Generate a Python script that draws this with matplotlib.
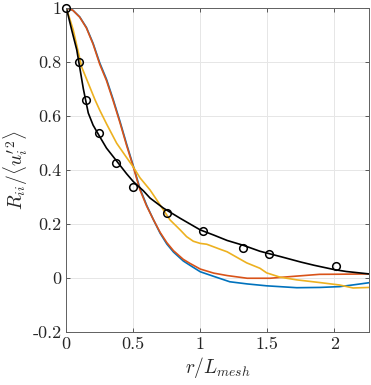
import matplotlib
matplotlib.use("Agg")
import matplotlib.pyplot as plt

plt.rcParams["mathtext.fontset"] = "cm"
plt.rcParams["font.family"] = "serif"
plt.rcParams["font.serif"] = ["cmr10", "DejaVu Serif"]
plt.rcParams["axes.unicode_minus"] = False

# measured points (circles)
meas_r = [0, 0.095, 0.147, 0.246, 0.371, 0.5, 0.749, 1.018, 1.321, 1.515, 2.013]
meas_R = [1.0, 0.80, 0.658, 0.537, 0.424, 0.335, 0.2385, 0.172, 0.110, 0.0866, 0.043]

# fit (black)
fit_r = [0, 0.039, 0.078, 0.127, 0.164, 0.2, 0.25, 0.3, 0.376, 0.45, 0.5, 0.575, 0.625,
         0.724, 0.85, 1.0, 1.1, 1.2, 1.321, 1.445, 1.6, 1.75, 1.85, 2.0, 2.09, 2.26]
fit_R = [1.0, 0.92, 0.844, 0.70, 0.61, 0.565, 0.522, 0.48, 0.432, 0.385, 0.356, 0.322, 0.295,
         0.258, 0.22, 0.177, 0.158, 0.138, 0.12, 0.098, 0.078, 0.058, 0.046, 0.03, 0.023, 0.014]

# blue
blue_r = [0, 0.05, 0.1, 0.15, 0.2, 0.25, 0.3, 0.35, 0.4, 0.45, 0.5, 0.55, 0.6, 0.65, 0.7,
          0.75, 0.8, 0.873, 0.923, 1.0, 1.1, 1.22, 1.35, 1.495, 1.72, 1.893, 2.04, 2.15, 2.26]
blue_R = [1.0, 0.99, 0.966, 0.927, 0.868, 0.795, 0.735, 0.66, 0.58, 0.495, 0.414, 0.33, 0.268,
          0.215, 0.165, 0.125, 0.095, 0.062, 0.046, 0.022, 0.005, -0.015, -0.023, -0.03,
          -0.037, -0.036, -0.033, -0.026, -0.0185]

# orange
orange_r = [0, 0.05, 0.1, 0.15, 0.2, 0.25, 0.3, 0.35, 0.4, 0.45, 0.5, 0.55, 0.6, 0.65, 0.7,
            0.75, 0.8, 0.873, 0.923, 1.0, 1.1, 1.2, 1.35, 1.52, 1.72, 1.89, 2.05, 2.26]
orange_R = [1.0, 0.99, 0.965, 0.925, 0.865, 0.79, 0.73, 0.655, 0.575, 0.49, 0.41, 0.325, 0.265,
            0.215, 0.168, 0.13, 0.1, 0.068, 0.053, 0.032, 0.017, 0.008, -0.002, -0.002,
            0.006, 0.0125, 0.013, 0.014]

# yellow
yellow_r = [0, 0.052, 0.115, 0.215, 0.25, 0.3, 0.376, 0.45, 0.5, 0.55, 0.625, 0.675, 0.774,
            0.85, 0.898, 0.948, 1.0, 1.048, 1.15, 1.2, 1.346, 1.445, 1.495, 1.595, 1.72,
            1.893, 2.04, 2.14, 2.26]
yellow_R = [1.0, 0.917, 0.78, 0.658, 0.62, 0.57, 0.498, 0.445, 0.41, 0.37, 0.325, 0.288, 0.214,
            0.177, 0.152, 0.135, 0.127, 0.124, 0.105, 0.096, 0.055, 0.035, 0.018, 0.002,
            -0.008, -0.018, -0.027, -0.038, -0.036]

xticks = [0, 0.5, 1, 1.5, 2]
xtick_labels = ["0", "0.5", "1", "1.5", "2"]
yticks = [-0.2, 0, 0.2, 0.4, 0.6, 0.8, 1]
ytick_labels = ["-0.2", "0", "0.2", "0.4", "0.6", "0.8", "1"]

fig = plt.figure(figsize=(3.71, 3.85), dpi=100)
ax = fig.add_axes([0.1787, 0.1384, 0.8163, 0.8416])

ax.plot(blue_r, blue_R, color="#0072BD", lw=1.2)
ax.plot(orange_r, orange_R, color="#D95319", lw=1.2)
ax.plot(yellow_r, yellow_R, color="#EDB120", lw=1.2)
ax.plot(fit_r, fit_R, color="black", lw=1.2)
ax.plot(meas_r, meas_R, "o", mfc="none", mec="black", ms=5.5, mew=1.1, clip_on=False,
        zorder=5)

ax.set_xlim(0, 2.26)
ax.set_ylim(-0.2, 1)
ax.set_xticks(xticks)
ax.set_xticklabels(xtick_labels)
ax.set_yticks(yticks)
ax.set_yticklabels(ytick_labels)
ax.tick_params(direction="in", length=3, width=0.6, colors="#404040", labelsize=13,
               top=True, right=True, labelcolor="#262626")
ax.grid(True, color="#e6e6e6", lw=0.7)
ax.set_axisbelow(True)
for s in ax.spines.values():
    s.set_color("#606060")
    s.set_linewidth(0.7)

ax.set_xlabel(r"$r/L_{mesh}$", fontsize=14, color="#262626", labelpad=2)
ax.set_ylabel(r"$R_{ii}/\langle u_i'^2\rangle$", fontsize=14, color="#262626", labelpad=2)

fig.savefig("out.png", dpi=100)
